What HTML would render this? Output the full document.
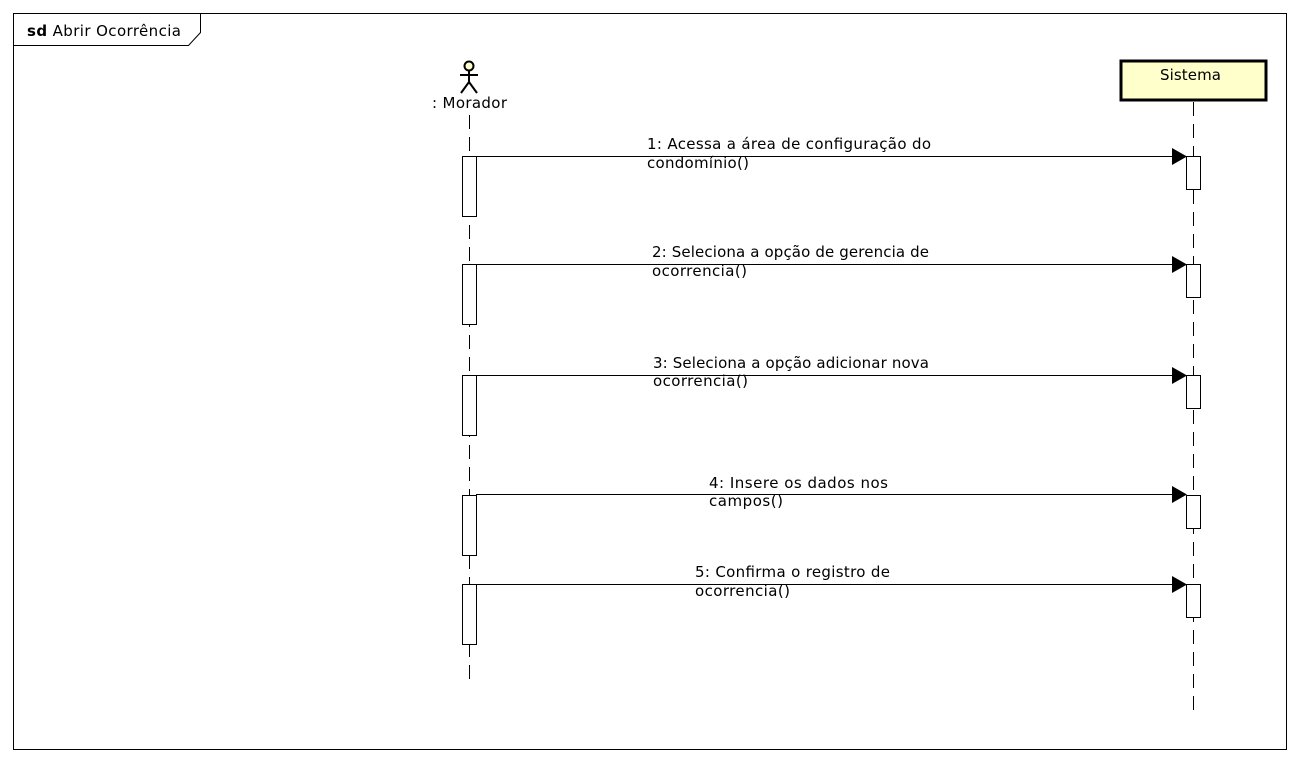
<!DOCTYPE html>
<html><head><meta charset="utf-8"><style>
html,body{margin:0;padding:0;background:#fff;width:1300px;height:762px;overflow:hidden}
text{font-family:"DejaVu Sans","Liberation Sans",sans-serif;font-size:15px;fill:#000}
</style></head><body>
<svg width="1300" height="762" viewBox="0 0 1300 762" xmlns="http://www.w3.org/2000/svg">
<rect x="13.5" y="13.5" width="1273" height="736" fill="#fff" stroke="#000" stroke-width="1"/>
<polyline points="13.5,45.5 188.5,45.5 200.5,32.5 200.5,13.5" fill="none" stroke="#000"/>
<text x="27" y="36" textLength="154"><tspan font-weight="bold">sd</tspan> Abrir Ocorrência</text>
<circle cx="469" cy="66" r="4.5" fill="#ffffcc" stroke="#000" stroke-width="2"/>
<line x1="469" y1="70" x2="469" y2="83" stroke="#000" stroke-width="2"/>
<line x1="460" y1="75" x2="478" y2="75" stroke="#000" stroke-width="2"/>
<line x1="469" y1="82" x2="461" y2="93" stroke="#000" stroke-width="2"/>
<line x1="469" y1="82" x2="477" y2="93" stroke="#000" stroke-width="2"/>
<text x="432" y="108" textLength="75">: Morador</text>
<line x1="469.5" y1="115" x2="469.5" y2="682" stroke="#000" stroke-dasharray="14,8"/>
<rect x="1121" y="61" width="145" height="39" fill="#ffffcc" stroke="#000" stroke-width="3"/>
<text x="1160" y="80" textLength="61">Sistema</text>
<line x1="1193.5" y1="102" x2="1193.5" y2="710" stroke="#000" stroke-dasharray="14,8"/>
<g fill="#fff" stroke="#000">
<rect x="462.5" y="156.5" width="14" height="60"/>
<rect x="462.5" y="264.5" width="14" height="60"/>
<rect x="462.5" y="375.5" width="14" height="60"/>
<rect x="462.5" y="495.5" width="14" height="60"/>
<rect x="462.5" y="584.5" width="14" height="60"/>
<rect x="1186.5" y="156.5" width="14" height="33"/>
<rect x="1186.5" y="264.5" width="14" height="33"/>
<rect x="1186.5" y="375.5" width="14" height="33"/>
<rect x="1186.5" y="495.5" width="14" height="33"/>
<rect x="1186.5" y="584.5" width="14" height="33"/>
</g>
<g stroke="#000">
<line x1="476" y1="156.5" x2="1174" y2="156.5"/>
<line x1="476" y1="264.5" x2="1174" y2="264.5"/>
<line x1="476" y1="375.5" x2="1174" y2="375.5"/>
<line x1="476" y1="494.5" x2="1174" y2="494.5"/>
<line x1="476" y1="584.5" x2="1174" y2="584.5"/>
</g>
<g fill="#000">
<polygon points="1172,148 1187,156.5 1172,165"/>
<polygon points="1172,256 1187,264.5 1172,273"/>
<polygon points="1172,367 1187,375.5 1172,384"/>
<polygon points="1172,486 1187,494.5 1172,503"/>
<polygon points="1172,576 1187,584.5 1172,593"/>
</g>
<text x="647" y="149" textLength="284">1: Acessa a área de configuração do</text>
<text x="647" y="168" textLength="102">condomínio()</text>
<text x="652" y="257" textLength="277">2: Seleciona a opção de gerencia de</text>
<text x="652" y="276" textLength="95">ocorrencia()</text>
<text x="653" y="368" textLength="276">3: Seleciona a opção adicionar nova</text>
<text x="653" y="386" textLength="95">ocorrencia()</text>
<text x="709" y="488" textLength="179">4: Insere os dados nos</text>
<text x="709" y="506" textLength="74">campos()</text>
<text x="695" y="577" textLength="195">5: Confirma o registro de</text>
<text x="695" y="596" textLength="95">ocorrencia()</text>
</svg>
</body></html>
